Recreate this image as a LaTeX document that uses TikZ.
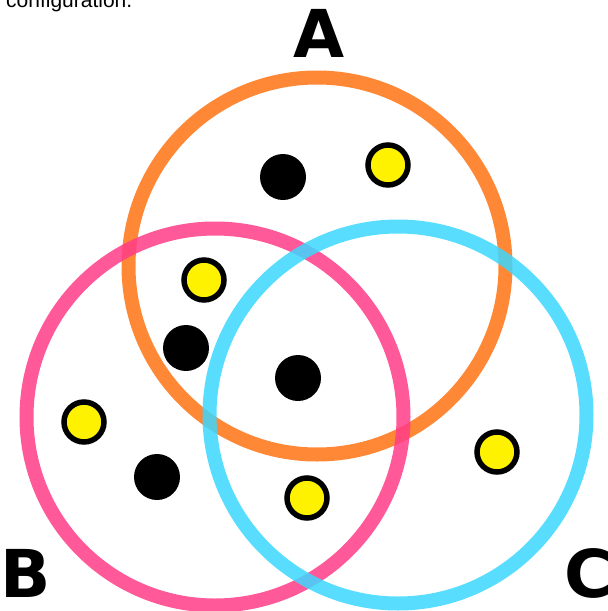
\documentclass[tikz,border=0pt]{standalone}
\usepackage{fontspec}
\setmainfont{Liberation Sans}
\newfontfamily\labelfont{DejaVu Sans}
\usepackage{xcolor}
\usetikzlibrary{positioning}
\definecolor{ringA}{RGB}{255,115,20}
\definecolor{ringB}{RGB}{255,60,135}
\definecolor{ringC}{RGB}{60,215,255}
\tikzset{
  ring/.style={circle, line width=14pt, draw opacity=0.85, minimum size=377pt, inner sep=0pt},
  blackdot/.style={circle, fill=black, minimum size=46pt, inner sep=0pt},
  yellowdot/.style={circle, fill=yellow, draw=black, line width=5.5pt, minimum size=40pt, inner sep=0pt},
  setlabel/.style={font=\labelfont\bfseries\fontsize{66}{66}\selectfont, inner sep=0pt}
}
\begin{document}
\begin{tikzpicture}[x=1pt, y=-1pt]
    \useasboundingbox (0,0) rectangle (608,611);
    \begin{scope}
        \clip (0,0) rectangle (608,611);
        % cut-off caption at the top
        \node[anchor=base west, inner sep=0pt, font=\fontsize{21}{21}\selectfont] (caption) at (6,7) {configuration.};
        % the three sets
        \node[ring, draw=ringA] (setA) at (317,266) {};
        \node[ring, draw=ringB] (setB) at (215,417) {};
        \node[ring, draw=ringC] (setC) at (398,415) {};
        \node[setlabel, anchor=base] (labC) at (589,597) {C};
    \end{scope}
    % labels
    \node[setlabel, anchor=base] (labA) at (319,57) {A};
    \node[setlabel, anchor=base] (labB) at (26,597) {B};
    % elements
    \node[blackdot] (k1) at (283,177) {};
    \node[blackdot] (k2) at (186,348) {};
    \node[blackdot] (k3) at (298,378) {};
    \node[blackdot] (k4) at (157,477) {};
    \node[yellowdot] (y1) at (388,165) {};
    \node[yellowdot] (y2) at (204,280) {};
    \node[yellowdot] (y3) at (84,422) {};
    \node[yellowdot] (y4) at (307,498) {};
    \node[yellowdot] (y5) at (497,452) {};
\end{tikzpicture}
\end{document}
